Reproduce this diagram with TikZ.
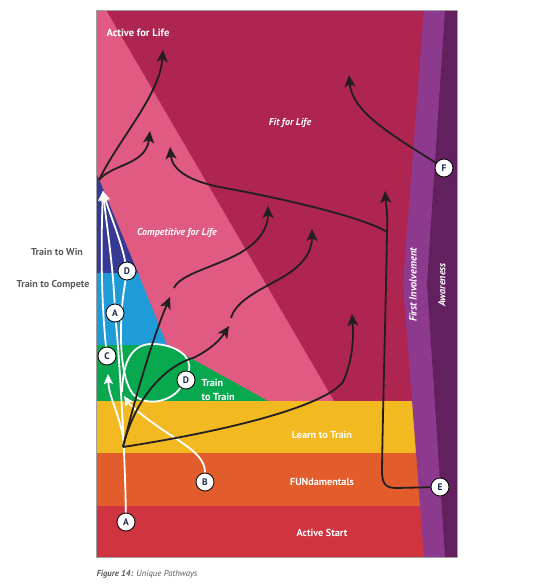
\documentclass[tikz,border=0pt]{standalone}
\usepackage{fontspec}
\setmainfont{PT Sans}
\usetikzlibrary{arrows.meta}
\definecolor{cMaroon}{HTML}{AD2550}
\definecolor{cPink}{HTML}{E05A82}
\definecolor{cNavy}{HTML}{363A94}
\definecolor{cBlue}{HTML}{1F9BD7}
\definecolor{cGreen}{HTML}{08A84F}
\definecolor{cYellow}{HTML}{F2B920}
\definecolor{cOrange}{HTML}{E35C2C}
\definecolor{cRed}{HTML}{D03440}
\definecolor{cLPurple}{HTML}{8D3A8E}
\definecolor{cDPurple}{HTML}{63205F}
\definecolor{cInk}{HTML}{231F20}
\definecolor{cLetter}{HTML}{1E2B4A}
\definecolor{cSide}{HTML}{5A5A5A}
\definecolor{cFrame}{HTML}{A0A0A0}
\pgfdeclarelayer{bg}
\pgfdeclarelayer{lines}
\pgfsetlayers{bg,lines,main}
\begin{document}
\begin{tikzpicture}[x=1pt,y=-1pt,
  lab/.style={text=white,font=\bfseries\fontsize{10.2}{12}\selectfont},
  ilab/.style={text=white,font=\bfseries\itshape\fontsize{10}{12}\selectfont},
  side/.style={text=cSide,font=\bfseries\fontsize{10}{12}\selectfont},
  circ/.style={circle,draw=black,fill=white,line width=0.8pt,minimum size=18pt,inner sep=0pt,
    font=\bfseries\fontsize{9.5}{10}\selectfont,text=cLetter},
  wline/.style={draw=white,line width=1.8pt},
  wpath/.style={wline,-{Stealth[length=10pt,width=9pt,inset=2pt]}},
  bline/.style={draw=cInk,line width=1.8pt},
  bpath/.style={bline,-{Stealth[length=12pt,width=11pt,inset=3pt]}}]
\useasboundingbox (0,0) rectangle (539,587);

% ---------- background regions ----------
\begin{pgfonlayer}{bg}
\fill[cMaroon] (96,10) rectangle (457,401);
\fill[cPink] (96,10) -- (106,10) -- (334,401) -- (96,401) -- cycle;
\fill[cNavy] (96,172) -- (138,273) -- (96,273) -- cycle;
\fill[cBlue] (96,273) -- (138,273) -- (167,345) -- (96,345) -- cycle;
\fill[cGreen] (96,345) -- (167,345) -- (268,401) -- (96,401) -- cycle;
\fill[cYellow] (96,401) rectangle (457,453);
\fill[cOrange] (96,453) rectangle (457,506);
\fill[cRed] (96,506) rectangle (457,557);
\fill[cLPurple] (424,10) -- (457,10) -- (457,557) -- (424,557) -- (403,283) -- cycle;
\fill[cDPurple] (445,10) -- (457,10) -- (457,557) -- (445,557) -- (427,283) -- cycle;
\draw[cFrame,line width=0.7pt] (96,10) rectangle (457,557);
\end{pgfonlayer}

% ---------- circle labels ----------
\node[circ] (Dup) at (127,271) {D};
\node[circ] (Aup) at (115,313) {A};
\node[circ] (Cc) at (107,356) {C};
\node[circ] (Dlow) at (186,380) {D};
\node[circ] (B) at (205,482) {B};
\node[circ] (Alow) at (126,522) {A};
\node[circ] (F) at (444,168) {F};
\node[circ] (E) at (440,487) {E};

% ---------- named points ----------
\coordinate (tipW) at (103,191);
\coordinate (T) at (99,180);
\coordinate (O) at (123,447);
\coordinate (splitC) at (124,442);
\coordinate (splitD) at (122,392);
\coordinate (tipCa) at (108,374);
\coordinate (bw1) at (160,428);
\coordinate (tipBw) at (124,396);
\coordinate (dw1) at (155,344);
\coordinate (dw2) at (138,398);
\coordinate (dw3) at (121,335);
\coordinate (tipT1) at (163,50);
\coordinate (tipT2) at (150,131);
\coordinate (aMid) at (343,382);
\coordinate (tipA) at (352,314);
\coordinate (bMid) at (193,358);
\coordinate (tipB) at (229,326);
\coordinate (tipC) at (170,297);
\coordinate (b2s) at (231,318);
\coordinate (b2m) at (283,277);
\coordinate (tipB2) at (312,229);
\coordinate (c2s) at (174,288);
\coordinate (c2m) at (240,253);
\coordinate (tipC2) at (268,206);
\coordinate (eBend) at (396,488);
\coordinate (eLow) at (382,470);
\coordinate (Bp) at (387,232);
\coordinate (tipE1) at (385,191);
\coordinate (eMid) at (225,188);
\coordinate (tipE2) at (170,147);
\coordinate (tipF) at (349,75);

% ---------- pathways ----------
\begin{pgfonlayer}{lines}
% white pathways
\draw[wline] (Alow) .. controls (125,455) and (120,365) .. (Aup);
\draw[wpath] (Aup) .. controls (113,265) and (106,220) .. (tipW);
\draw[wpath] (Cc) .. controls (101,300) and (101,240) .. (tipW);
\draw[wpath] (splitC) .. controls (119,412) and (109,398) .. (tipCa);
\draw[wpath] (B) .. controls (205,455) and (185,445) .. (bw1) .. controls (140,414) and (130,405) .. (tipBw);
\draw[wline] (splitD) .. controls (123,352) and (138,343) .. (dw1) .. controls (175,345) and (193,356) .. (Dlow);
\draw[wline] (Dlow) .. controls (172,400) and (152,406) .. (dw2) .. controls (126,392) and (121,365) .. (dw3) .. controls (121,305) and (124,290) .. (Dup);
\draw[wpath] (Dup) .. controls (121,240) and (109,212) .. (tipW);
% black pathways
\draw[bpath] (T) .. controls (118,140) and (160,95) .. (tipT1);
\draw[bpath] (T) .. controls (112,164) and (146,165) .. (tipT2);
\draw[bpath] (O) .. controls (220,432) and (322,408) .. (aMid) .. controls (352,362) and (354,340) .. (tipA);
\draw[bpath] (O) .. controls (133,405) and (160,368) .. (bMid) .. controls (210,350) and (220,340) .. (tipB);
\draw[bpath] (O) .. controls (132,410) and (150,345) .. (tipC);
\draw[bpath] (b2s) .. controls (236,300) and (262,289) .. (b2m) .. controls (303,265) and (312,252) .. (tipB2);
\draw[bpath] (c2s) .. controls (180,274) and (215,267) .. (c2m) .. controls (262,240) and (268,226) .. (tipC2);
\draw[bline] (E) -- (eBend) .. controls (384,488) and (382,482) .. (eLow) .. controls (383,400) and (386,300) .. (Bp);
\draw[bpath] (Bp) .. controls (388,215) and (386,205) .. (tipE1);
\draw[bpath] (Bp) .. controls (365,218) and (290,200) .. (eMid) .. controls (190,182) and (172,170) .. (tipE2);
\draw[bpath] (F) .. controls (392,135) and (352,112) .. (tipF);
\end{pgfonlayer}

% ---------- texts ----------
\node[lab,anchor=west,font=\bfseries\fontsize{10.6}{12}\selectfont] (tAFL) at (103,33) {Active for Life};
\node[ilab] (tFFL) at (290,123) {Fit for Life};
\node[ilab] (tCFL) at (177,233) {Competitive for Life};
\node[side] (tTW) at (57,252) {Train to Win};
\node[side] (tTC) at (53,285) {Train to Compete};
\node[lab,anchor=west,align=left,font=\bfseries\fontsize{10.2}{13.5}\selectfont] (tTT) at (198,390) {Train\\to Train};
\node[lab] (tLT) at (322,435) {Learn to Train};
\node[lab] (tFUN) at (322,482) {FUNdamentals};
\node[lab] (tAS) at (322,533) {Active Start};
\node[ilab,rotate=90,font=\bfseries\itshape\fontsize{10.5}{12}\selectfont] (tFI) at (413,285) {First Involvement};
\node[ilab,rotate=90,font=\bfseries\itshape\fontsize{10}{12}\selectfont] (tAW) at (442,285) {Awareness};
\node[anchor=west,font=\itshape\fontsize{8.7}{10}\selectfont,text=cSide] (cap) at (93,574) {\textbf{Figure 14:} Unique Pathways};
\end{tikzpicture}
\end{document}
